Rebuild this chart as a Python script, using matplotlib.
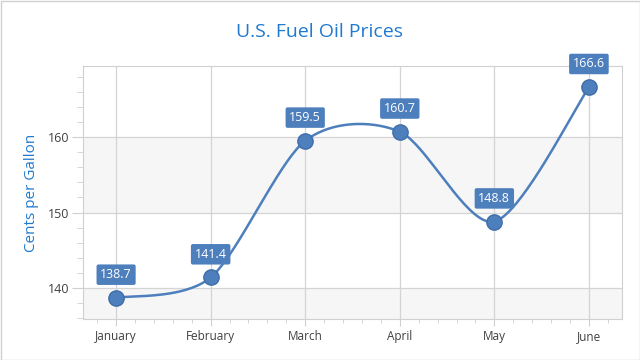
import numpy as np
import matplotlib.pyplot as plt
from matplotlib.ticker import MultipleLocator
from matplotlib.patches import Rectangle

# Data
months = ['January', 'February', 'March', 'April', 'May', 'June']
prices = [138.7, 141.4, 159.5, 160.7, 148.8, 166.6]

blue = '#4e7fbd'
title_blue = '#1f7ad0'

plt.rcParams['font.family'] = ['Open Sans', 'DejaVu Sans']

fig = plt.figure(figsize=(6.4, 3.6), dpi=100)
ax = fig.add_axes([83 / 640, 1 - 319 / 360, 539 / 640, 253 / 360])

x = np.arange(len(months))
y = np.array(prices)

# cardinal spline for the smooth line
tension = 0.85
pts_x = np.concatenate([[x[0]], x, [x[-1]]])
pts_y = np.concatenate([[y[0]], y, [y[-1]]])
sx, sy = [], []
t = np.linspace(0, 1, 40)
h00 = 2 * t**3 - 3 * t**2 + 1
h10 = t**3 - 2 * t**2 + t
h01 = -2 * t**3 + 3 * t**2
h11 = t**3 - t**2
for i in range(1, len(pts_x) - 2):
    p0, p1, p2, p3 = [np.array([pts_x[j], pts_y[j]]) for j in range(i - 1, i + 3)]
    m1 = tension * (p2 - p0) / 2
    m2 = tension * (p3 - p1) / 2
    seg = (p1[:, None] * h00 + m1[:, None] * h10
           + p2[:, None] * h01 + m2[:, None] * h11)
    sx.extend(seg[0])
    sy.extend(seg[1])

ax.set_xlim(-0.35, 5.35)
ax.set_ylim(135.9, 169.4)

# alternating bands
for lo, hi in [(130, 140), (150, 160)]:
    ax.add_patch(Rectangle((-1, lo), 8, hi - lo, color='#f6f6f6', zorder=0, lw=0))

ax.set_yticks([140, 150, 160])
ax.yaxis.set_minor_locator(MultipleLocator(2))
ax.set_xticks(x)
ax.set_xticklabels(months)
ax.xaxis.set_minor_locator(MultipleLocator(0.2))
ax.grid(True, color='#d4d4d4', linewidth=0.9, zorder=1)

for s in ax.spines.values():
    s.set_color('#d0d0d0')
ax.tick_params(which='both', colors='#d0d0d0', labelcolor='#404040')
ax.tick_params(axis='y', which='major', length=8, pad=2, labelsize=9)
ax.tick_params(axis='y', which='minor', length=4)
ax.tick_params(axis='x', which='major', length=5, pad=3, labelsize=8.5)
ax.tick_params(axis='x', which='minor', length=3)

ax.plot(sx, sy, color=blue, linewidth=1.8, zorder=3)
ax.plot(x, y, 'o', color=blue, markersize=11, markeredgecolor='#3f6da8',
        markeredgewidth=1, zorder=4)

for xi, yi in zip(x, y):
    ax.annotate(f'{yi}', (xi, yi), xytext=(0, 12), textcoords='offset points',
                ha='center', va='bottom', color='white', fontsize=9,
                bbox=dict(boxstyle='round,pad=0.3,rounding_size=0.15',
                          fc=blue, ec='none'), zorder=5)

fig.text(0.5, 1 - 32 / 360, 'U.S. Fuel Oil Prices', ha='center', va='center',
         color=title_blue, fontsize=14)
ax.set_ylabel('Cents per Gallon', color=title_blue, fontsize=11, labelpad=6)

fig.patches.append(Rectangle((0.5 / 640, 0.5 / 360), 639 / 640, 359 / 360,
                             transform=fig.transFigure, fill=False,
                             ec='#d0d0d0', lw=1))

fig.savefig('out.png', dpi=100)
